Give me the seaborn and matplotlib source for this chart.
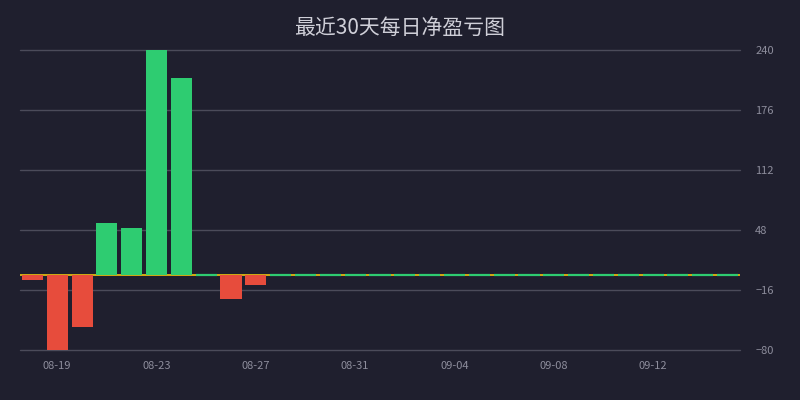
import matplotlib
matplotlib.use("Agg")
import matplotlib.pyplot as plt
import seaborn as sns
import pandas as pd

dates = ["08-18", "08-19", "08-20", "08-21", "08-22", "08-23", "08-24", "08-25",
         "08-26", "08-27", "08-28", "08-29", "08-30", "08-31", "09-01", "09-02",
         "09-03", "09-04", "09-05", "09-06", "09-07", "09-08", "09-09", "09-10",
         "09-11", "09-12", "09-13", "09-14", "09-15"]
values = [-5, -80, -55, 55.5, 50, 240, 210, 0,
          -25.5, -10.5, 0, 0, 0, 0, 0, 0,
          0, 0, 0, 0, 0, 0, 0, 0,
          0, 0, 0, 0, 0]
yticks = [-80, -16, 48, 112, 176, 240]
xtick_labels = ["08-19", "08-23", "08-27", "08-31", "09-04", "09-08", "09-12"]
title = "最近30天每日净盈亏图"

BG = "#1f1f2e"
GREEN = "#2ecc71"
RED = "#e74c3c"
YELLOW = "#f1c40f"
GRID = "#4b4b5a"
TICK = "#8d8d9c"

sns.set_theme(style="dark")
plt.rcParams["font.family"] = ["Noto Sans CJK SC", "DejaVu Sans"]

df = pd.DataFrame({"date": dates, "value": values})
df["sign"] = ["pos" if v >= 0 else "neg" for v in values]

fig = plt.figure(figsize=(8, 4), dpi=100, facecolor=BG)
ax = fig.add_axes([0.025, 0.125, 0.9, 0.75])
ax.set_facecolor(BG)

sns.barplot(data=df, x="date", y="value", hue="sign",
            palette={"pos": GREEN, "neg": RED}, dodge=False,
            legend=False, width=0.85, ax=ax, zorder=3, saturation=1)

for p in ax.patches:
    if abs(p.get_height()) < 1e-9:
        p.set_edgecolor(GREEN)
        p.set_linewidth(1.6)
    else:
        p.set_linewidth(0)

ax.axhline(0, color=YELLOW, lw=1.2, zorder=2)

ax.set_xlim(-0.5, len(dates) - 0.5)
ax.set_ylim(yticks[0], yticks[-1])
ax.set_yticks(yticks)
for y in yticks:
    ax.axhline(y, color=GRID, lw=1, zorder=1, clip_on=False)
ax.grid(False)

ax.yaxis.tick_right()
ax.tick_params(axis="y", length=0, pad=11, labelsize=8, labelcolor=TICK)
pos = [dates.index(d) for d in xtick_labels]
ax.set_xticks(pos)
ax.set_xticklabels(xtick_labels)
ax.tick_params(axis="x", length=0, pad=8, labelsize=8, labelcolor=TICK)
ax.set_xlabel("")
ax.set_ylabel("")
for s in ax.spines.values():
    s.set_visible(False)

fig.text(0.5, 0.93, title, ha="center", va="center", fontsize=15,
         color="#cfcfd8", fontweight="light")

fig.savefig("out.png", dpi=100, facecolor=BG)
